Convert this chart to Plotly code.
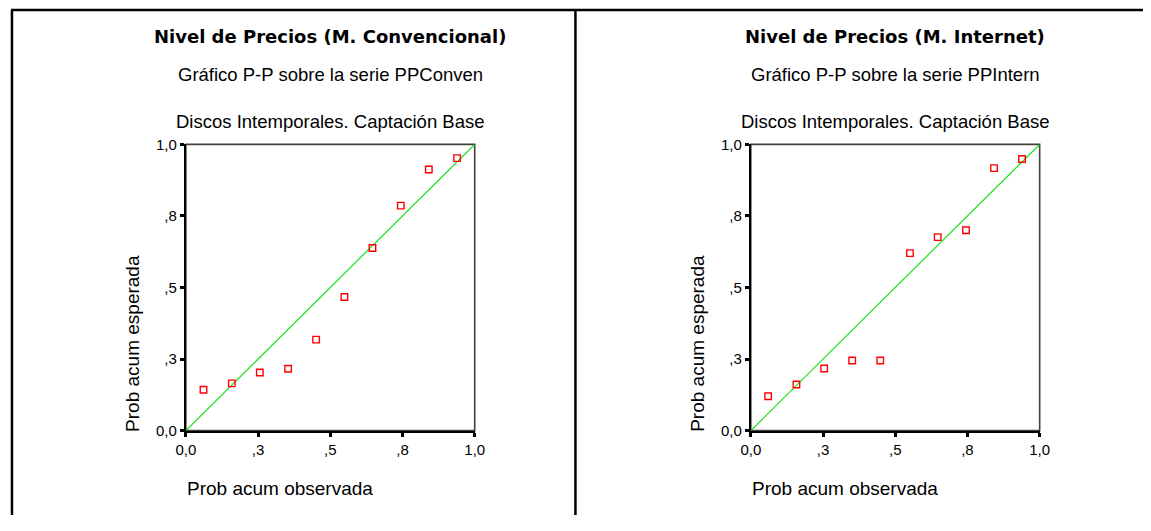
import plotly.graph_objects as go

# Window size and the page's default body margin around the figure
W, H = 1151, 531
OFF = 8
FW, FH = W - OFF, H - 2 * OFF

# Observed / expected cumulative probabilities for each series
observed_conven = [0.061, 0.159, 0.256, 0.354, 0.451, 0.549, 0.646, 0.744, 0.841, 0.939]
expected_conven = [0.143, 0.165, 0.203, 0.216, 0.318, 0.467, 0.638, 0.786, 0.912, 0.952]

observed_intern = [0.060, 0.158, 0.254, 0.351, 0.448, 0.551, 0.647, 0.745, 0.842, 0.939]
expected_intern = [0.120, 0.161, 0.217, 0.245, 0.245, 0.620, 0.676, 0.700, 0.917, 0.949]

tick_vals = [0, 0.25, 0.5, 0.75, 1.0]
tick_text = ["0,0", ",3", ",5", ",8", "1,0"]

titles = ["Nivel de Precios (M. Convencional)", "Nivel de Precios (M. Internet)"]
subtitles = ["Gráfico P-P sobre la serie PPConven", "Gráfico P-P sobre la serie PPIntern"]
caption = "Discos Intemporales. Captación Base"
x_title = "Prob acum observada"
y_title = "Prob acum esperada"

FONT = "Liberation Sans, Arial, sans-serif"
BOLD = "DejaVu Sans, Arial Black, sans-serif"


def px_x(x):
    """Window pixel column -> paper x."""
    return (x - OFF) / FW


def px_y(y):
    """Window pixel row -> paper y."""
    return 1 - (y - OFF) / FH


# panel geometry in window pixels: plot left, right, top, bottom
panels = [
    dict(left=187, right=481, top=148, bottom=444),
    dict(left=762, right=1056, top=148, bottom=444),
]
series = [(observed_conven, expected_conven), (observed_intern, expected_intern)]

fig = go.Figure()
annotations = []
shapes = []

for i, (p, (obs, exp)) in enumerate(zip(panels, series)):
    n = "" if i == 0 else str(i + 1)
    xa, ya = "x" + n, "y" + n
    axis_common = dict(
        range=[0, 1],
        tickmode="array",
        tickvals=tick_vals,
        ticktext=tick_text,
        ticks="outside",
        ticklen=4,
        tickwidth=3,
        tickcolor="black",
        showline=True,
        linecolor="black",
        linewidth=2,
        showgrid=False,
        zeroline=False,
        fixedrange=True,
        tickfont=dict(family=FONT, size=15, color="black"),
    )
    fig.update_layout(**{
        "xaxis" + n: dict(axis_common, domain=[px_x(p["left"]), px_x(p["right"])], anchor=ya),
        "yaxis" + n: dict(axis_common, domain=[px_y(p["bottom"]), px_y(p["top"])], anchor=xa),
    })

    # plot frame (top and right edges)
    shapes.append(dict(type="rect", xref=xa + " domain", yref=ya + " domain",
                       x0=0, x1=1, y0=0, y1=1, line=dict(color="#404040", width=1.6),
                       layer="below"))

    # reference diagonal
    fig.add_trace(go.Scatter(x=[0, 1], y=[0, 1], mode="lines",
                             line=dict(color="#18E018", width=1.2),
                             xaxis=xa, yaxis=ya, showlegend=False, hoverinfo="skip"))
    # P-P points
    fig.add_trace(go.Scatter(x=obs, y=exp, mode="markers",
                             marker=dict(symbol="square-open", size=6.5, color="#FF0000",
                                         line=dict(color="#FF0000", width=1.4)),
                             xaxis=xa, yaxis=ya, showlegend=False))

    cx = px_x((p["left"] + p["right"]) / 2)
    annotations += [
        dict(text=titles[i], x=cx, y=px_y(36), xref="paper", yref="paper",
             xanchor="center", yanchor="middle", showarrow=False,
             font=dict(family=BOLD, size=18, color="black", weight="bold")),
        dict(text=subtitles[i], x=cx, y=px_y(76), xref="paper", yref="paper",
             xanchor="center", yanchor="middle", showarrow=False,
             font=dict(family=FONT, size=18.5, color="black")),
        dict(text=caption, x=cx, y=px_y(124), xref="paper", yref="paper",
             xanchor="center", yanchor="middle", showarrow=False,
             font=dict(family=FONT, size=18.5, color="black")),
        dict(text=y_title, x=px_x(p["left"] - 54.5), y=px_y(354), xref="paper", yref="paper",
             xanchor="center", yanchor="middle", textangle=-90, showarrow=False,
             font=dict(family=FONT, size=19, color="black")),
        dict(text=x_title, x=px_x(p["left"] - 1), y=px_y(504), xref="paper", yref="paper",
             xanchor="left", yanchor="middle", showarrow=False,
             font=dict(family=FONT, size=19, color="black")),
    ]

# outer panel borders
border = dict(color="black", width=2.5)
top_y = px_y(OFF + 1)
shapes += [
    dict(type="line", xref="paper", yref="paper", x0=px_x(9), x1=1.02, y0=top_y, y1=top_y, line=border),
    dict(type="line", xref="paper", yref="paper", x0=px_x(10), x1=px_x(10), y0=top_y, y1=-0.02, line=border),
    dict(type="line", xref="paper", yref="paper", x0=px_x(583.5), x1=px_x(583.5), y0=top_y, y1=-0.02, line=border),
]

fig.update_layout(
    width=FW, height=FH,
    margin=dict(l=0, r=0, t=0, b=0),
    paper_bgcolor="white",
    plot_bgcolor="white",
    annotations=annotations,
    shapes=shapes,
)

fig.write_html("out.html")
